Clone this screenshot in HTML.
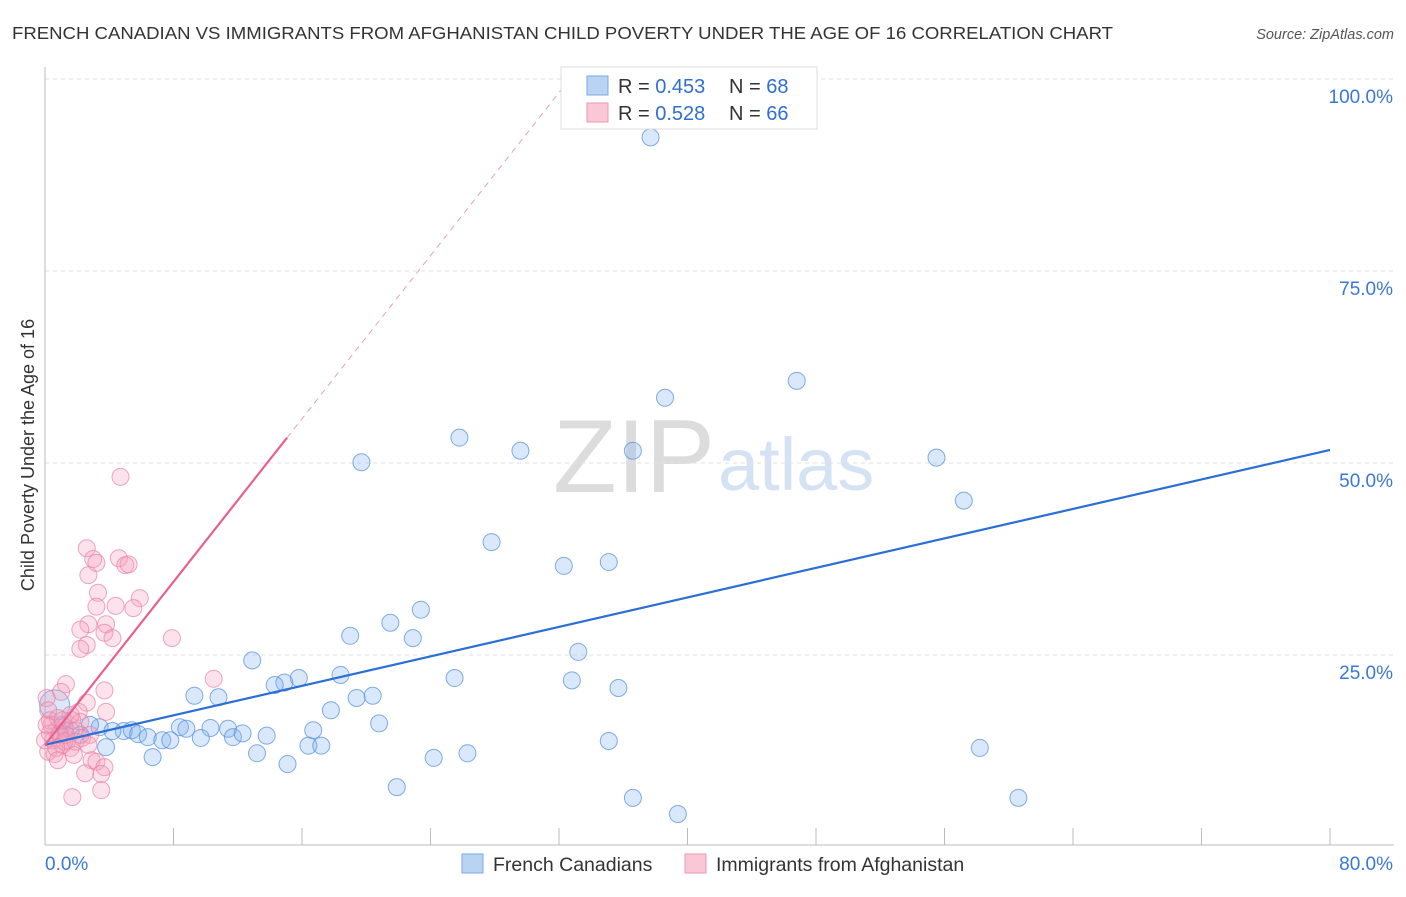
<!DOCTYPE html>
<html><head><meta charset="utf-8"><style>
body{margin:0;background:#fff;font-family:"Liberation Sans",sans-serif;}
svg text{font-family:"Liberation Sans",sans-serif;}
</style></head><body>
<svg id="chart" width="1406" height="892" xmlns="http://www.w3.org/2000/svg">
<text x="12" y="39" font-size="17.5" fill="#333" textLength="1101" lengthAdjust="spacingAndGlyphs">FRENCH CANADIAN VS IMMIGRANTS FROM AFGHANISTAN CHILD POVERTY UNDER THE AGE OF 16 CORRELATION CHART</text>
<text x="1394" y="39" font-size="14.5" fill="#555" text-anchor="end" font-style="italic">Source: ZipAtlas.com</text>
<g>
<text x="553" y="492" font-size="104" fill="#dcdcdc" font-family="Liberation Serif, serif" textLength="162" lengthAdjust="spacingAndGlyphs">ZIP</text>
<text x="718" y="490" font-size="74" fill="#d4e2f4">atlas</text>
</g>
<g id="grid"></g>
<g id="axes"></g>
<g id="marks"></g>
<g>
<rect x="561" y="67" width="256" height="62" fill="#fff" stroke="#ddd"/>
<rect x="587" y="76" width="21" height="19" fill="#b9d3f3" stroke="#7aa8e4"/>
<rect x="587" y="103" width="21" height="19" fill="#f9c7d6" stroke="#ec98b2"/>
<text x="618" y="93" font-size="20" fill="#333">R = <tspan fill="#2f6fd0">0.453</tspan></text>
<text x="729" y="93" font-size="20" fill="#333">N = <tspan fill="#2f6fd0">68</tspan></text>
<text x="618" y="120" font-size="20" fill="#333">R = <tspan fill="#2f6fd0">0.528</tspan></text>
<text x="729" y="120" font-size="20" fill="#333">N = <tspan fill="#2f6fd0">66</tspan></text>
</g>
<g>
<rect x="462" y="854" width="21" height="19" fill="#b9d3f3" stroke="#7aa8e4"/>
<text x="493" y="871" font-size="19.5" fill="#333">French Canadians</text>
<rect x="685" y="854" width="21" height="19" fill="#f9c7d6" stroke="#ec98b2"/>
<text x="716" y="871" font-size="19.5" fill="#333">Immigrants from Afghanistan</text>
</g>
</svg>
<script>
const blueX=[37.7,46.8,38.6,25.8,29.6,36.6,19.7,55.5,57.2,27.8,32.3,35.1,23.4,21.5,19.0,22.9,33.2,12.9,15.8,14.9,14.3,18.4,32.8,25.5,35.7,9.3,10.8,19.4,20.4,17.8,20.8,8.4,8.8,10.3,11.4,16.7,3.4,2.8,1.1,4.9,5.4,4.2,5.8,6.4,7.3,7.8,9.7,11.7,12.3,13.8,16.4,17.2,3.8,6.7,13.2,15.1,24.2,26.3,35.1,58.2,21.9,36.6,39.4,60.6,0.6,2.2,1.6,0.9];
const blueY=[92.4,60.7,58.5,53.3,51.6,51.6,50.1,50.7,45.1,39.7,36.6,37.1,30.9,29.2,27.5,27.2,25.4,24.3,22.0,21.4,21.1,22.4,21.7,22.0,20.7,19.7,19.5,19.4,19.7,17.8,16.1,15.6,15.4,15.5,15.4,15.2,15.6,15.9,15.9,15.1,15.2,15.1,14.7,14.3,13.9,13.9,14.2,14.3,14.8,14.5,13.2,13.2,13.0,11.7,12.2,10.8,11.6,12.2,13.8,12.9,7.8,6.4,4.3,6.4,18.5,14.6,15.2,14.8];
const pinkX=[4.7,2.6,3.0,3.2,2.7,4.6,5.0,5.2,3.3,5.9,3.2,4.4,5.5,2.7,3.8,2.2,3.7,4.2,2.6,2.2,7.9,10.5,1.3,1.0,3.7,2.6,0.1,0.2,3.8,2.1,0.3,1.2,1.7,0.7,2.2,0.5,1.1,1.6,0.2,0.6,1.8,2.9,3.2,3.7,3.5,2.5,1.7,3.5,0.9,1.4,1.9,0.4,0.8,1.2,0.0,0.7,2.3,2.8,1.3,1.6,1.9,0.8,0.3,0.1,1.1,2.7];
const pinkY=[48.2,38.9,37.5,37.0,35.4,37.6,36.7,36.8,33.1,32.4,31.3,31.4,31.1,29.0,29.0,28.3,27.9,27.2,26.3,25.8,27.2,21.9,21.2,20.2,20.4,18.8,19.4,17.8,17.6,17.6,16.5,15.6,16.5,15.2,16.3,13.9,13.3,12.9,12.4,12.1,12.0,11.3,11.1,10.4,9.5,9.6,6.5,7.4,14.6,13.9,15.2,15.9,16.8,13.7,13.9,12.9,14.2,14.6,14.6,17.2,13.7,11.3,14.8,15.9,16.5,13.3];
const blueFit=[13.3,51.7]; // y at x=0 and x=80
const pinkFit=[13.3,2.654]; // intercept, slope
const yTicks=[25,50,75,100];
const xTickLabels=["0.0%","80.0%"];

const X0=45,X1=1330,Y0=847,Y100=79;
const sx=v=>X0+(X1-X0)*v/80;
const sy=v=>Y0+(Y100-Y0)*v/100;
const NS="http://www.w3.org/2000/svg";
function mk(tag,attrs,parent){const e=document.createElementNS(NS,tag);for(const k in attrs)e.setAttribute(k,attrs[k]);parent.appendChild(e);return e;}
const grid=document.getElementById('grid'),axes=document.getElementById('axes'),marks=document.getElementById('marks');
yTicks.forEach(t=>{
  const l=mk('line',{x1:X0,x2:1394,y1:sy(t),y2:sy(t),stroke:'#e2e2e2','stroke-dasharray':'4,4'},grid);
  
  
  const tx=mk('text',{x:1393,y:sy(t)+24,'font-size':19,fill:'#3a78d6','text-anchor':'end'},axes);
  tx.textContent=t.toFixed(1)+'%';
  
  
});
const ya=mk('line',{x1:X0,x2:X0,y1:67,y2:845,stroke:'#bbb'},axes);


const xa=mk('line',{x1:X0,x2:1394,y1:845,y2:845,stroke:'#bbb'},axes);


for(let i=0;i<=10;i++){
  const t=mk('line',{x1:sx(i*8),x2:sx(i*8),y1:828,y2:845,stroke:'#bbb'},axes);
  
  
}
const xl0=mk('text',{x:45,y:870,'font-size':19,fill:'#3a78d6'},axes);
xl0.textContent=xTickLabels[0];


const xl1=mk('text',{x:1393,y:870,'font-size':19,fill:'#3a78d6','text-anchor':'end'},axes);
xl1.textContent=xTickLabels[1];


const yt=mk('text',{x:0,y:0,'font-size':18,fill:'#333','text-anchor':'middle',transform:'translate(34,455) rotate(-90)'},axes);
yt.textContent='Child Poverty Under the Age of 16';



blueX.forEach((x,i)=>{
  const c=mk('circle',{cx:sx(x),cy:sy(blueY[i]),r:(i===64?15:8.5),fill:'rgba(130,178,238,0.3)',stroke:'rgba(90,145,220,0.75)','stroke-width':1},marks);
  
  
});
pinkX.forEach((x,i)=>{
  const c=mk('circle',{cx:sx(x),cy:sy(pinkY[i]),r:8.5,fill:'rgba(244,160,188,0.3)',stroke:'rgba(232,130,165,0.7)','stroke-width':1},marks);
  
  
});
const bl=mk('line',{x1:sx(0),y1:sy(blueFit[0]),x2:sx(80),y2:sy(blueFit[1]),stroke:'#2a6fd6','stroke-width':2.2},marks);


const pEnd=15.07, pMax=(100-pinkFit[0])/pinkFit[1];
const pl=mk('line',{x1:sx(0),y1:sy(pinkFit[0]),x2:sx(pEnd),y2:sy(pinkFit[0]+pinkFit[1]*pEnd),stroke:'#e8608d','stroke-width':2.2},marks);


const pd=mk('line',{x1:sx(pEnd),y1:sy(pinkFit[0]+pinkFit[1]*pEnd),x2:sx(pMax),y2:sy(100),stroke:'#e8a0b8','stroke-width':1,'stroke-dasharray':'6,5'},marks);


</script>
</body></html>
